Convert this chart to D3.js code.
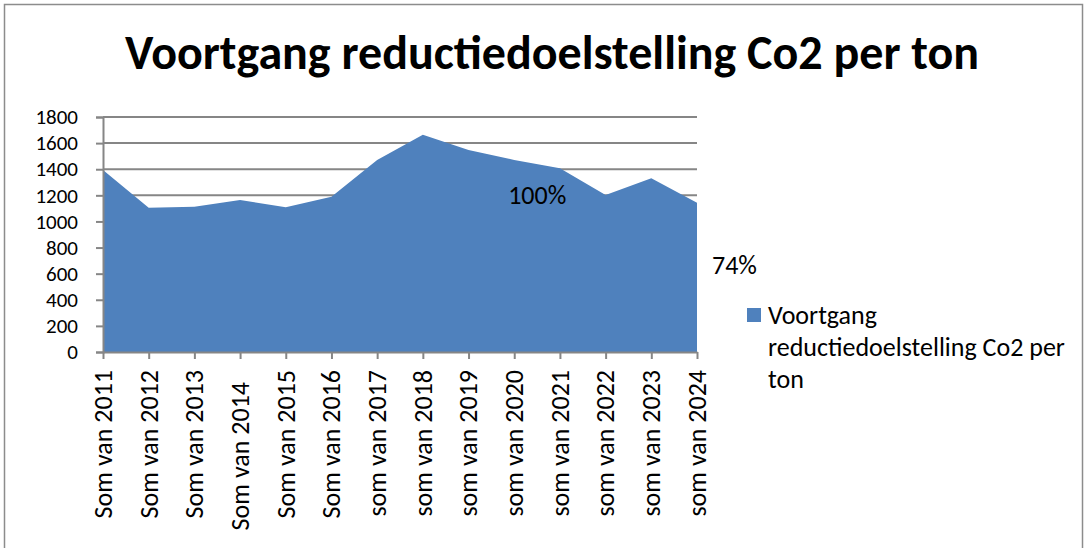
<!DOCTYPE html>
<html>
<head>
<meta charset="utf-8">
<script src="https://cdn.jsdelivr.net/npm/d3@7"></script>
<style>
  body { margin: 0; background: #fff; }
  svg { display: block; font-family: Carlito, Calibri, Lato, sans-serif; }
</style>
</head>
<body>
<div id="chart"></div>
<script>
const width = 1088;
const height = 548;

// data
const categories = ["Som van 2011", "Som van 2012", "Som van 2013", "Som van 2014", "Som van 2015",
  "Som van 2016", "som van 2017", "som van 2018", "som van 2019", "som van 2020",
  "som van 2021", "som van 2022", "som van 2023", "som van 2024"];
const values = [1395, 1105, 1113, 1164, 1108, 1190, 1471, 1665, 1547, 1471, 1407, 1202, 1330, 1144];
const yTicks = [0, 200, 400, 600, 800, 1000, 1200, 1400, 1600, 1800];
const seriesName = "Voortgang reductiedoelstelling Co2 per ton";
const legendLines = ["Voortgang", "reductiedoelstelling Co2 per", "ton"];

const area_color = "#4f81bd";
const axis_color = "#868686";
const font = "Carlito, Calibri, Lato, sans-serif";

let svg = d3.select("#chart")
  .append("svg")
  .attr("width", width)
  .attr("height", height);

// chart border
svg.append("rect")
  .attr("x", 4.5).attr("y", 4.5)
  .attr("width", 1078).attr("height", 560)
  .attr("fill", "none")
  .attr("stroke", "#8c8c8c")
  .attr("stroke-width", 1.5);

// title
svg.append("text")
  .attr("x", 552).attr("y", 69)
  .attr("text-anchor", "middle")
  .attr("font-size", 48)
  .attr("font-weight", "bold")
  .text(seriesName);

// scales
let x = d3.scalePoint().domain(categories).range([103, 697]);
let y = d3.scaleLinear().domain([0, 1800]).range([352, 117]);

// gridlines
svg.append("g")
  .selectAll("line")
  .data(yTicks.filter(d => d > 0))
  .join("line")
  .attr("x1", 103).attr("x2", 697)
  .attr("y1", d => y(d)).attr("y2", d => y(d))
  .attr("stroke", axis_color)
  .attr("stroke-width", 2);

// area
let area = d3.area()
  .x((d, i) => x(categories[i]))
  .y0(y(0))
  .y1(d => y(d));

svg.append("path")
  .datum(values)
  .attr("fill", area_color)
  .attr("d", area);

// y axis
let yAxis = svg.append("g")
  .attr("transform", "translate(103,0)")
  .call(d3.axisLeft(y).tickValues(yTicks).tickFormat(d3.format("d")).tickSize(7).tickPadding(18));
yAxis.attr("font-family", font).attr("font-size", 21);
yAxis.select(".domain").attr("stroke", axis_color).attr("stroke-width", 2);
yAxis.selectAll(".tick line").attr("stroke", axis_color).attr("stroke-width", 2);
yAxis.selectAll("text").attr("fill", "#000");

// x axis
let xAxis = svg.append("g")
  .attr("transform", `translate(0,${y(0)})`)
  .call(d3.axisBottom(x).tickSize(7).tickSizeOuter(0));
xAxis.attr("font-family", font).attr("font-size", 26);
xAxis.select(".domain").attr("stroke", axis_color).attr("stroke-width", 2);
xAxis.selectAll(".tick line").attr("stroke", axis_color).attr("stroke-width", 2);
xAxis.selectAll("text")
  .attr("fill", "#000")
  .attr("text-anchor", "end")
  .attr("dy", "0.32em")
  .attr("transform", (d, i) => `translate(0,${i === 3 ? 30 : 18}) rotate(-90)`)
  .attr("x", 0).attr("y", 0);

// data labels
svg.append("text")
  .attr("x", x(categories[9]) + 23)
  .attr("y", y(1200))
  .attr("dy", "0.35em")
  .attr("text-anchor", "middle")
  .attr("font-size", 26)
  .text("100%");

svg.append("text")
  .attr("x", x(categories[13]) + 15)
  .attr("y", y(670))
  .attr("dy", "0.35em")
  .attr("font-size", 26)
  .text("74%");

// legend
let legend = svg.append("g").attr("transform", "translate(747,308)");
legend.append("rect")
  .attr("width", 14).attr("height", 14)
  .attr("fill", area_color);
legend.append("text")
  .attr("x", 21).attr("y", 7)
  .attr("font-size", 26)
  .selectAll("tspan")
  .data(legendLines)
  .join("tspan")
  .attr("x", 21)
  .attr("dy", (d, i) => i === 0 ? "0.35em" : 32)
  .text(d => d);
</script>
</body>
</html>
